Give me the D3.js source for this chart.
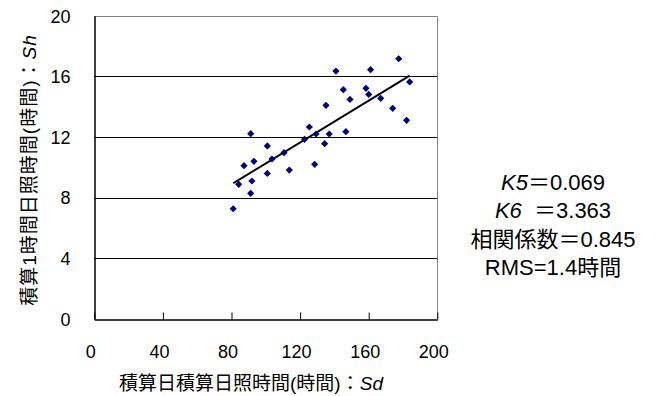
<!DOCTYPE html>
<html>
<head>
<meta charset="utf-8">
<script src="https://cdn.jsdelivr.net/npm/d3@7"></script>
<style>
  body { margin: 0; background: #fff; }
  svg { display: block; font-family: "Liberation Sans", Arial, "Noto Sans CJK JP", sans-serif; }
</style>
</head>
<body>
<div id="chart"></div>
<script>
// sunshine hours: daily accumulated (Sd) vs accumulated hourly (Sh)
const sd = [81.0, 84.2, 87.3, 91.2, 91.2, 91.9, 93.1, 100.9, 100.9, 103.6, 110.6,
  113.7, 122.6, 125.4, 128.5, 129.3, 134.3, 135.1, 137.0, 140.9, 145.2, 146.7,
  149.1, 158.4, 160.0, 161.1, 167.0, 174.0, 177.5, 182.1, 183.9];
const sh = [7.27, 8.88, 10.11, 12.22, 8.29, 9.10, 10.40, 11.41, 9.60, 10.55, 10.97,
  9.82, 11.85, 12.66, 10.20, 12.20, 11.56, 14.09, 12.20, 16.35, 15.12, 12.35,
  14.48, 15.21, 14.81, 16.44, 14.55, 13.89, 17.16, 13.10, 15.63];
// regression line Sh = K5*Sd + K6 over the data range
const K5 = 0.069, K6 = 3.363;
const fitRange = [81.0, 183.9];
const xTicks = [0, 40, 80, 120, 160, 200];
const yTicks = [0, 4, 8, 12, 16, 20];
const statLines = ['K5', 'K6', '相関係数＝0.845', 'RMS=1.4時間'];

const width = 656, height = 396;
const plot = { left: 94.3, right: 437.3, top: 15.7, bottom: 319 };

const svg = d3.select('#chart').append('svg')
  .attr('width', width)
  .attr('height', height);

const x = d3.scaleLinear().domain([0, 200]).range([plot.left, plot.right]);
const y = d3.scaleLinear().domain([0, 20]).range([plot.bottom, plot.top]);

// horizontal gridlines
svg.append('g')
  .selectAll('line')
  .data(yTicks.filter(d => d > 0 && d < 20))
  .enter().append('line')
  .attr('x1', plot.left).attr('x2', plot.right)
  .attr('y1', d => Math.round(y(d)) + 0.5).attr('y2', d => Math.round(y(d)) + 0.5)
  .attr('stroke', '#000').attr('stroke-width', 1);

// frame top + right (grey)
svg.append('path')
  .attr('d', `M${Math.round(plot.left)},${Math.round(plot.top) + 0.5}H${Math.round(plot.right) + 0.5}V${Math.round(plot.bottom)}`)
  .attr('fill', 'none').attr('stroke', '#808080');

// x axis: inside ticks
const xAxis = svg.append('g')
  .attr('transform', `translate(0,${Math.round(plot.bottom) + 0.5})`)
  .call(d3.axisBottom(x).tickValues(xTicks).tickSizeInner(-7).tickSizeOuter(0));
xAxis.select('.domain').attr('stroke', '#000').attr('stroke-width', 1.5);
xAxis.selectAll('.tick line').attr('stroke', '#000');
xAxis.selectAll('.tick text')
  .attr('y', 0).attr('dy', 0)
  .attr('transform', 'translate(-4,38)')
  .style('font-size', '18px').attr('fill', '#000');

// y axis
const yAxis = svg.append('g')
  .attr('transform', `translate(${Math.round(plot.left) + 0.5},0)`)
  .call(d3.axisLeft(y).tickValues(yTicks).tickSize(0));
yAxis.select('.domain').attr('stroke', '#000').attr('stroke-width', 1.5);
yAxis.selectAll('.tick text')
  .attr('x', -24).attr('dy', '0.35em')
  .style('font-size', '18px').attr('fill', '#000');

// regression line
svg.append('path')
  .datum(fitRange)
  .attr('fill', 'none')
  .attr('stroke', '#000')
  .attr('stroke-width', 2)
  .attr('d', d3.line().x(d => x(d)).y(d => y(K5 * d + K6)));

// points (diamonds)
svg.append('g')
  .selectAll('path')
  .data(sd.map((v, i) => [v, sh[i]]))
  .enter().append('path')
  .attr('d', d3.symbol().type(d3.symbolSquare).size(26))
  .attr('transform', d => `translate(${x(d[0])},${y(d[1])}) rotate(45)`)
  .attr('fill', '#000080');

// axis titles
const xt = svg.append('text')
  .attr('x', 251).attr('y', 390)
  .attr('text-anchor', 'middle')
  .style('font-size', '19px');
xt.append('tspan').text('積算日積算日照時間(時間)：');
xt.append('tspan').text('Sd').style('font-style', 'italic');

const yt = svg.append('text')
  .attr('transform', 'translate(36,170) rotate(-90)')
  .attr('text-anchor', 'middle')
  .style('font-size', '19px')
  .style('letter-spacing', '1px');
yt.append('tspan').text('積算1時間日照時間(時間)：');
yt.append('tspan').text('Sh').style('font-style', 'italic');

// statistics block
const stats = svg.append('g').style('font-size', '22px').attr('text-anchor', 'middle');
const s1 = stats.append('text').attr('x', 553).attr('y', 190);
s1.append('tspan').text(statLines[0]).style('font-style', 'italic');
s1.append('tspan').text('＝' + K5.toFixed(3));
const s2 = stats.append('text').attr('x', 553).attr('y', 218);
s2.append('tspan').text(statLines[1]).style('font-style', 'italic');
s2.append('tspan').text('  ＝' + K6.toFixed(3)).style('white-space', 'pre');
stats.append('text').attr('x', 553).attr('y', 247).text(statLines[2]);
stats.append('text').attr('x', 553).attr('y', 275).text(statLines[3]);
</script>
</body>
</html>
